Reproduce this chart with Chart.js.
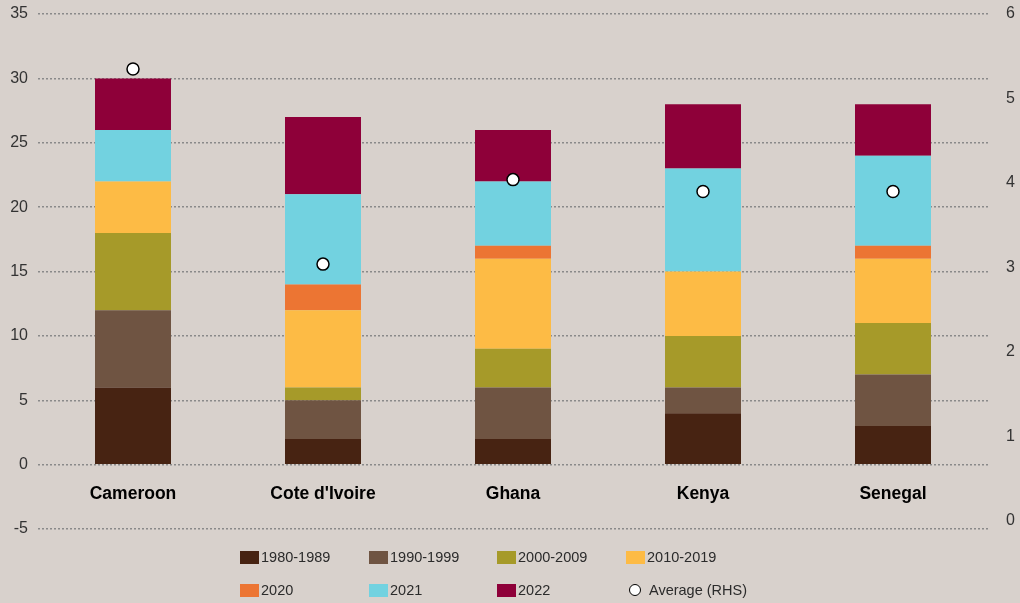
<!DOCTYPE html>
<html>
<head>
<meta charset="utf-8">
<script src="https://cdn.jsdelivr.net/npm/chart.js@4"></script>
<style>
  html, body { margin: 0; padding: 0; background: #d8d1cc; }
  #wrap { position: relative; width: 1020px; height: 603px; }
  #legend { position: absolute; left: 0; top: 0; width: 1020px; height: 603px; pointer-events: none;
    font-family: "Liberation Sans", Arial, sans-serif; font-size: 14.5px; color: #2b2b2b; }
  .item { position: absolute; display: flex; align-items: center; height: 20px; }
  .box { width: 19px; height: 13px; margin-right: 2px; }
  .dot { width: 10px; height: 10px; border: 1.5px solid #000; border-radius: 50%; background: #fff; margin-right: 8px; }
</style>
</head>
<body>
<div id="wrap">
  <canvas id="grafico" width="1020" height="603"></canvas>
  <div id="legend"></div>
</div>
<script>
// =====================================================
// DADOS
// =====================================================
const paises = ["Cameroon", "Cote d'Ivoire", "Ghana", "Kenya", "Senegal"];

const d1980 = [6, 2, 2, 4, 3];
const d1990 = [6, 3, 4, 2, 4];
const d2000 = [6, 1, 3, 4, 4];
const d2010 = [4, 6, 7, 5, 5];
const d2020 = [0, 2, 1, 0, 1];
const d2021 = [4, 7, 5, 8, 7];
const d2022 = [4, 6, 4, 5, 4];
const media = [5.35, 3.04, 4.04, 3.9, 3.9];

const ticksEsquerda = [-5, 0, 5, 10, 15, 20, 25, 30, 35];
const ticksDireita = [0, 1, 2, 3, 4, 5, 6];

const series = [
  { label: "1980-1989", data: d1980, cor: "#472312" },
  { label: "1990-1999", data: d1990, cor: "#6f5442" },
  { label: "2000-2009", data: d2000, cor: "#a69a29" },
  { label: "2010-2019", data: d2010, cor: "#fdbb45" },
  { label: "2020", data: d2020, cor: "#ec7533" },
  { label: "2021", data: d2021, cor: "#72d2e0" },
  { label: "2022", data: d2022, cor: "#8e0039" }
];

// =====================================================
// GRÁFICO
// =====================================================
const datasets = series.map(s => ({
  type: "bar",
  label: s.label,
  data: s.data,
  backgroundColor: s.cor,
  borderWidth: 0,
  barPercentage: 0.8,
  categoryPercentage: 0.5,
  yAxisID: "y",
  order: 2
}));

datasets.push({
  type: "line",
  label: "Average (RHS)",
  data: media,
  yAxisID: "y1",
  showLine: false,
  pointRadius: 6,
  pointBackgroundColor: "#fff",
  pointBorderColor: "#000",
  pointBorderWidth: 1.5,
  order: 1
});

const fonteTick = { family: "'Liberation Sans', Arial, sans-serif", size: 16 };

// fixa largura e tira o padding extra dos ticks
function ajustarEixo(largura) {
  return ax => {
    ax.width = largura;
    ax.paddingTop = 0;
    ax.paddingBottom = 0;
  };
}

new Chart(document.getElementById("grafico"), {
  data: { labels: paises, datasets },
  options: {
    responsive: false,
    animation: false,
    layout: { padding: { top: 14, bottom: 74, left: 0, right: 0 } },
    plugins: { legend: { display: false }, tooltip: { enabled: false } },
    scales: {
      x: {
        stacked: true,
        position: { y: 0 },
        afterFit: ax => { ax.height = 0; },
        grid: { display: false, drawTicks: false },
        border: { display: false },
        ticks: {
          color: "#000",
          padding: 19,
          font: { family: "'Liberation Sans', Arial, sans-serif", size: 17.5, weight: "bold" }
        }
      },
      y: {
        stacked: true,
        position: "left",
        min: -5,
        max: 35,
        afterBuildTicks: ax => { ax.ticks = ticksEsquerda.map(v => ({ value: v })); },
        afterFit: ajustarEixo(38),
        grid: { color: "#8a8a8a", lineWidth: 1.5, drawTicks: false },
        border: { display: false, dash: [2, 2] },
        ticks: { color: "#333", padding: 10, font: fonteTick }
      },
      y1: {
        position: "right",
        min: -0.095,
        max: 6,
        afterBuildTicks: ax => { ax.ticks = ticksDireita.map(v => ({ value: v })); },
        afterFit: ajustarEixo(32),
        grid: { display: false, drawTicks: false },
        border: { display: false },
        ticks: { color: "#333", padding: 18, font: fonteTick }
      }
    }
  }
});

// =====================================================
// LEGENDA (HTML)
// =====================================================
const legenda = document.getElementById("legend");
const colunas = [240, 369, 497, 626];
const linhas = [547, 580];

series.forEach((s, i) => {
  const el = document.createElement("div");
  el.className = "item";
  el.style.left = colunas[i % 4] + "px";
  el.style.top = linhas[Math.floor(i / 4)] + "px";
  el.innerHTML = `<span class="box" style="background:${s.cor}"></span><span>${s.label}</span>`;
  legenda.appendChild(el);
});

const itemMedia = document.createElement("div");
itemMedia.className = "item";
itemMedia.style.left = "629px";
itemMedia.style.top = linhas[1] + "px";
itemMedia.innerHTML = `<span class="dot"></span><span>Average (RHS)</span>`;
legenda.appendChild(itemMedia);
</script>
</body>
</html>
